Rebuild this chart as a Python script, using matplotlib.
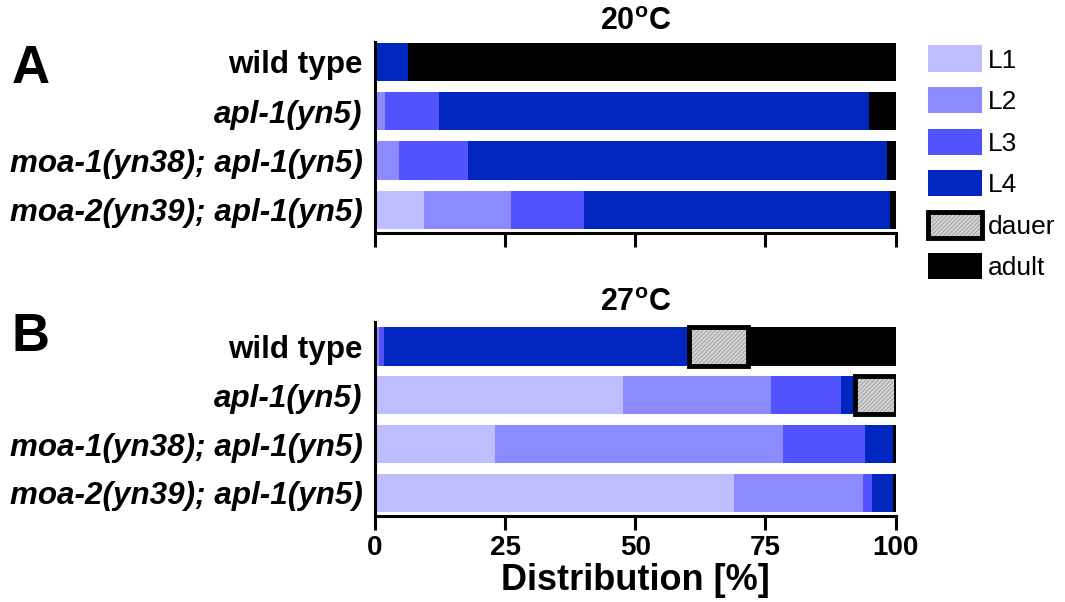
import matplotlib
matplotlib.use("Agg")
import matplotlib.pyplot as plt
from matplotlib.patches import Patch

plt.rcParams['font.family'] = ['Liberation Sans', 'DejaVu Sans']
plt.rcParams['mathtext.fontset'] = 'custom'
plt.rcParams['mathtext.bf'] = 'Liberation Sans:bold'
plt.rcParams['mathtext.rm'] = 'Liberation Sans'
plt.rcParams['hatch.linewidth'] = 0.6

# data (percent of animals per stage)
genotypes = ['wild type', 'apl-1(yn5)', 'moa-1(yn38); apl-1(yn5)', 'moa-2(yn39); apl-1(yn5)']
stages = ['L1', 'L2', 'L3', 'L4', 'dauer', 'adult']

t20_L1 = [0, 0, 0, 9.4]
t20_L2 = [0, 2.0, 4.7, 16.8]
t20_L3 = [0, 10.4, 13.1, 14.0]
t20_L4 = [6.3, 82.4, 80.5, 58.7]
t20_dauer = [0, 0, 0, 0]
t20_adult = [93.7, 5.2, 1.7, 1.1]

t27_L1 = [0, 47.6, 23.1, 69.0]
t27_L2 = [0.8, 28.4, 55.3, 24.8]
t27_L3 = [1.0, 13.5, 15.8, 1.6]
t27_L4 = [58.5, 2.6, 5.2, 4.0]
t27_dauer = [11.4, 7.9, 0, 0]
t27_adult = [28.3, 0, 0.6, 0.6]

xticks = [0, 25, 50, 75, 100]

colors = {'L1': '#bdbdff', 'L2': '#8b8bff', 'L3': '#5252ff',
          'L4': '#0026c0', 'dauer': '#d4d4d4', 'adult': 'black'}
hatch_col = '#9a9a9a'


def draw_panel(ax, series, title, show_labels, ytop):
    ypos = list(range(len(genotypes)))
    left = [0.0] * len(genotypes)
    for st, vals in zip(stages, series):
        for i, v in enumerate(vals):
            if v <= 0:
                continue
            if st == 'dauer':
                ax.barh(ypos[i], v, left=left[i], height=0.78, color=colors[st],
                        hatch='////////', edgecolor=hatch_col, lw=0)
                ax.barh(ypos[i], v, left=left[i], height=0.78, fill=False,
                        edgecolor='black', lw=3.5)
            else:
                ax.barh(ypos[i], v, left=left[i], height=0.78, color=colors[st], lw=0)
            left[i] += v
    ax.set_xlim(0, 100)
    ax.set_ylim(3.47, ytop)
    ax.set_yticks(ypos)
    ax.set_yticklabels(genotypes, fontsize=22.6, fontweight='bold')
    for lab in ax.get_yticklabels():
        if lab.get_text() != 'wild type':
            lab.set_fontstyle('italic')
    ax.tick_params(axis='y', length=0, pad=9)
    ax.set_xticks(xticks)
    ax.tick_params(axis='x', direction='out', length=10, width=2.2)
    if show_labels:
        ax.set_xticklabels([str(t) for t in xticks], fontsize=20, fontweight='bold')
        ax.set_xlabel('Distribution [%]', fontsize=26, fontweight='bold', labelpad=2)
    else:
        ax.set_xticklabels([])
    for s in ['top', 'right']:
        ax.spines[s].set_visible(False)
    for s in ['left', 'bottom']:
        ax.spines[s].set_linewidth(2.2)
    ax.set_title(title, fontsize=22, fontweight='bold', pad=8)


fig = plt.figure(figsize=(10.65, 6.02), dpi=100)
ax1 = fig.add_axes([0.352, 0.613, 0.489, 0.318])
ax2 = fig.add_axes([0.352, 0.143, 0.489, 0.322])

draw_panel(ax1, [t20_L1, t20_L2, t20_L3, t20_L4, t20_dauer, t20_adult],
           r'20$^{\mathbf{o}}$C', False, -0.41)
draw_panel(ax2, [t27_L1, t27_L2, t27_L3, t27_L4, t27_dauer, t27_adult],
           r'27$^{\mathbf{o}}$C', True, -0.50)

fig.text(0.011, 0.885, 'A', fontsize=38, fontweight='bold', va='center')
fig.text(0.011, 0.44, 'B', fontsize=38, fontweight='bold', va='center')

# legend
handles = []
for st in stages:
    if st == 'dauer':
        h = (Patch(facecolor=colors[st], hatch='////////', edgecolor=hatch_col, lw=0),
             Patch(fill=False, edgecolor='black', lw=3.5))
    else:
        h = Patch(facecolor=colors[st], lw=0)
    handles.append(h)
fig.legend(handles, stages, loc='upper left', bbox_to_anchor=(0.8615, 0.942),
           frameon=False, fontsize=19, handlelength=2.05, handleheight=1.15,
           handletextpad=0.2, labelspacing=0.55, borderaxespad=0)

fig.savefig('out.png', dpi=100)
